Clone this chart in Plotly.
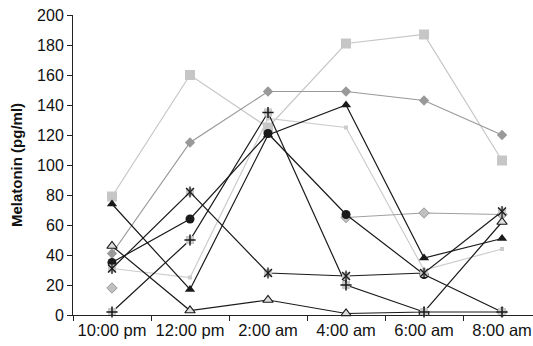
import plotly.graph_objects as go

categories = ["10:00 pm", "12:00 pm", "2:00 am", "4:00 am", "6:00 am", "8:00 am"]
y_ticks = [0, 20, 40, 60, 80, 100, 120, 140, 160, 180, 200]

light_square = [79, 160, 125, 181, 187, 103]
light_line = [31, 25, 131, 125, 30, 44]
gray_diamond = [41, 115, 149, 149, 143, 120]
pale_diamond = [18, None, None, 65, 68, 67]
black_circle = [35, 64, 121, 67, 27, 2]
black_triangle = [74, 17, 120, 140, 38, 51]
open_triangle = [46, 3, 10, 1, 2, 62]
plus_series = [2, 50, 135, 20, 2, 2]
star_series = [31, 82, 28, 26, 28, 69]

fig = go.Figure()
LW = 1.2

def add(vals, color, symbol, size, mcolor, mline="rgba(0,0,0,0)", mlw=0, mode="lines+markers"):
    fig.add_trace(go.Scatter(
        x=categories, y=vals, mode=mode,
        line=dict(color=color, width=LW),
        marker=dict(symbol=symbol, size=size, color=mcolor,
                    line=dict(color=mline, width=mlw)),
        showlegend=False, connectgaps=False, cliponaxis=False))

add(light_square, "#c6c6c6", "square", 10, "#c6c6c6")
add(light_line, "#cccccc", "square", 4, "#cccccc")
add(gray_diamond, "#999999", "diamond", 8, "#999999")
add(pale_diamond, "#a0a0a0", "diamond", 8, "#c0c0c0", "#999999", 1)
add(black_circle, "#1a1a1a", "circle", 9, "#1a1a1a")
add(black_triangle, "#1a1a1a", "triangle-up", 9, "#1a1a1a")
add(open_triangle, "#1a1a1a", "triangle-up", 9, "#dddddd", "#1a1a1a", 1.2)
# plus series: gray square background + black plus
add(plus_series, "#1a1a1a", "square", 8, "#c8c8c8")
add(plus_series, "#1a1a1a", "cross-thin-open", 8, "#1a1a1a", "#1a1a1a", 1.5, mode="markers")
# star series: gray square background + black x with vertical bar
add(star_series, "#1a1a1a", "square", 8, "#c8c8c8")
add(star_series, "#1a1a1a", "x-thin-open", 8, "#1a1a1a", "#1a1a1a", 1.3, mode="markers")
add(star_series, "#1a1a1a", "line-ns-open", 8, "#1a1a1a", "#1a1a1a", 1.3, mode="markers")

fig.update_layout(
    width=533, height=346,
    margin=dict(l=73, r=0, t=15, b=31),
    paper_bgcolor="white", plot_bgcolor="white",
    font=dict(family="Liberation Sans, Arial, sans-serif", color="#111", size=16),
    xaxis=dict(
        type="category", range=[-0.5, 5.397], automargin=False,
        showgrid=False, zeroline=False,
        showline=True, linecolor="#222", linewidth=1,
        ticks="outside", ticklen=5, tickcolor="#222", tickson="boundaries",
        tickfont=dict(size=16.5),
    ),
    yaxis=dict(
        range=[0, 200], tickvals=y_ticks, automargin=False,
        showgrid=False, zeroline=False,
        showline=True, linecolor="#222", linewidth=1,
        ticks="outside", ticklen=5, tickcolor="#222",
        tickfont=dict(size=16),
        title=dict(text="<b>Melatonin (pg/ml)</b>", font=dict(size=15), standoff=10),
    ),
)

fig.write_html("out.html", config={"displayModeBar": False},
               post_script="document.body.style.margin='0';document.body.style.overflow='hidden';")
